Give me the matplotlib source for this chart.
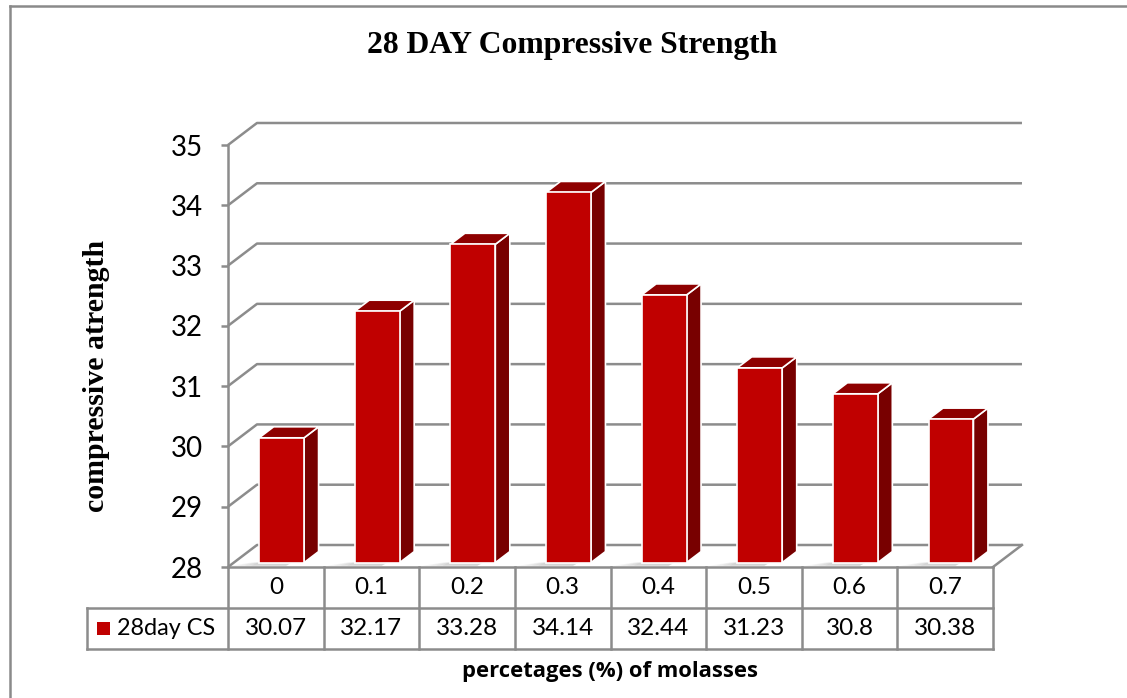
import numpy as np
import matplotlib.pyplot as plt
from matplotlib.patches import Polygon, Rectangle

# 28 day compressive strength vs molasses dosage
categories = ["0", "0.1", "0.2", "0.3", "0.4", "0.5", "0.6", "0.7"]
strength = [30.07, 32.17, 33.28, 34.14, 32.44, 31.23, 30.8, 30.38]
series_name = "28day CS"
y_ticks = [28, 29, 30, 31, 32, 33, 34, 35]

FRONT = "#c00000"
TOP = "#8e0000"
SIDE = "#780000"
GRID = "#8c8c8c"

# 3d look: wall depth in data units, bars sit in the middle of it
dx, dy = 0.303, 0.365
f0, f1 = 0.2, 0.7
bw = 0.47
row_h = 0.68

W, H = 1127, 698
fig = plt.figure(figsize=(W / 100, H / 100), dpi=100)
ax = fig.add_axes([228 / W, (H - 567) / H, 765 / W, 422 / H])
ax.set_xlim(-0.5, len(categories) - 0.5)
ax.set_ylim(28, 35)
ymin = 28
xl, xr = -0.5, len(categories) - 0.5

for s in ["top", "right", "bottom"]:
    ax.spines[s].set_visible(False)
ax.spines["left"].set_color(GRID)
ax.spines["left"].set_linewidth(1.8)
ax.set_xticks([])
ax.set_yticks(y_ticks)
ax.tick_params(axis="y", length=5, width=1.8, color=GRID, pad=13)
for lab in ax.get_yticklabels():
    lab.set_fontfamily("Lato")
    lab.set_fontsize(20)
ax.patch.set_visible(False)

# back wall gridlines with the slanted side segments
for t in y_ticks:
    ax.plot([xl, xl + dx, xr + dx], [t, t + dy, t + dy], color=GRID, lw=1.8,
            clip_on=False, zorder=1, solid_capstyle="butt")
# floor outline
ax.plot([xr, xr + dx], [ymin, ymin + dy], color=GRID, lw=1.8, clip_on=False, zorder=1)

# soft shadows on the floor
for i in range(len(strength)):
    x0 = i - bw / 2 + f0 * dx
    for k in range(4):
        off = 0.08 + 0.07 * k
        ax.add_patch(Polygon([(x0 - off, ymin + 0.02), (x0 + bw * 0.6, ymin + 0.02),
                              (x0 + bw * 0.6 + f0 * dx, ymin + f0 * dy),
                              (x0 - off * 0.3, ymin + f0 * dy)],
                             closed=True, facecolor="#707070", edgecolor="none",
                             alpha=0.08, clip_on=False, zorder=2))

# bars
for i, v in enumerate(strength):
    x0 = i - bw / 2 + f0 * dx
    x1 = x0 + bw
    yb = ymin + f0 * dy
    yt = v + f0 * dy
    ddx = (f1 - f0) * dx
    ddy = (f1 - f0) * dy
    side = Polygon([(x1, yb), (x1 + ddx, yb + ddy), (x1 + ddx, yt + ddy), (x1, yt)],
                   closed=True, facecolor=SIDE, edgecolor="white", lw=1.2,
                   clip_on=False, zorder=3)
    top = Polygon([(x0, yt), (x0 + ddx, yt + ddy), (x1 + ddx, yt + ddy), (x1, yt)],
                  closed=True, facecolor=TOP, edgecolor="white", lw=1.2,
                  clip_on=False, zorder=3)
    front = Rectangle((x0, yb), bw, v - ymin, facecolor=FRONT, edgecolor="white",
                      lw=1.2, clip_on=False, zorder=4)
    for p in (side, top, front):
        ax.add_patch(p)

# data table under the floor
r1 = ymin - row_h
r2 = ymin - 2 * row_h
leg_x = xl - 1.475
tkw = dict(color=GRID, lw=1.8, clip_on=False, zorder=5, solid_capstyle="projecting")
ax.plot([xl, xr], [ymin, ymin], **tkw)
ax.plot([leg_x, xr], [r1, r1], **tkw)
ax.plot([leg_x, xr], [r2, r2], **tkw)
ax.plot([leg_x, leg_x], [r1, r2], **tkw)
for k in range(len(categories) + 1):
    ax.plot([xl + k, xl + k], [ymin, r2], **tkw)

for i, c in enumerate(categories):
    ax.text(i, ymin - row_h / 2, c, ha="center", va="center",
            fontfamily="Lato", fontsize=17.5, clip_on=False)
    ax.text(i, r1 - row_h / 2, f"{strength[i]:g}", ha="center", va="center",
            fontfamily="Lato", fontsize=17.5, clip_on=False)

ax.add_patch(Rectangle((leg_x + 0.105, r1 - row_h / 2 - 0.11), 0.135, 0.22,
                       facecolor=FRONT, edgecolor="none", clip_on=False, zorder=5))
ax.text(leg_x + 0.31, r1 - row_h / 2, series_name, ha="left", va="center",
        fontfamily="Lato", fontsize=16.8, clip_on=False)

# titles
fig.text(572 / W, 1 - 46 / H, "28 DAY Compressive Strength", ha="center", va="center",
         fontfamily="Liberation Serif", fontweight="bold", fontsize=22.8)
fig.text(97 / W, 1 - 376 / H, "compressive atrength", ha="center", va="center",
         rotation=90, fontfamily="Liberation Serif", fontweight="bold", fontsize=21.5)
fig.text(610 / W, 1 - 672 / H, "percetages (%) of molasses", ha="center", va="center",
         fontfamily="Open Sans", fontweight="bold", fontsize=15.8)

# chart frame
fig.add_artist(plt.Line2D([10 / W, 10 / W], [0, 1 - 6 / H], color="#8a8a8a", lw=1.8,
                          transform=fig.transFigure))
fig.add_artist(plt.Line2D([10 / W, 1], [1 - 6 / H, 1 - 6 / H], color="#8a8a8a", lw=1.8,
                          transform=fig.transFigure))

fig.savefig("out.png", dpi=100)
